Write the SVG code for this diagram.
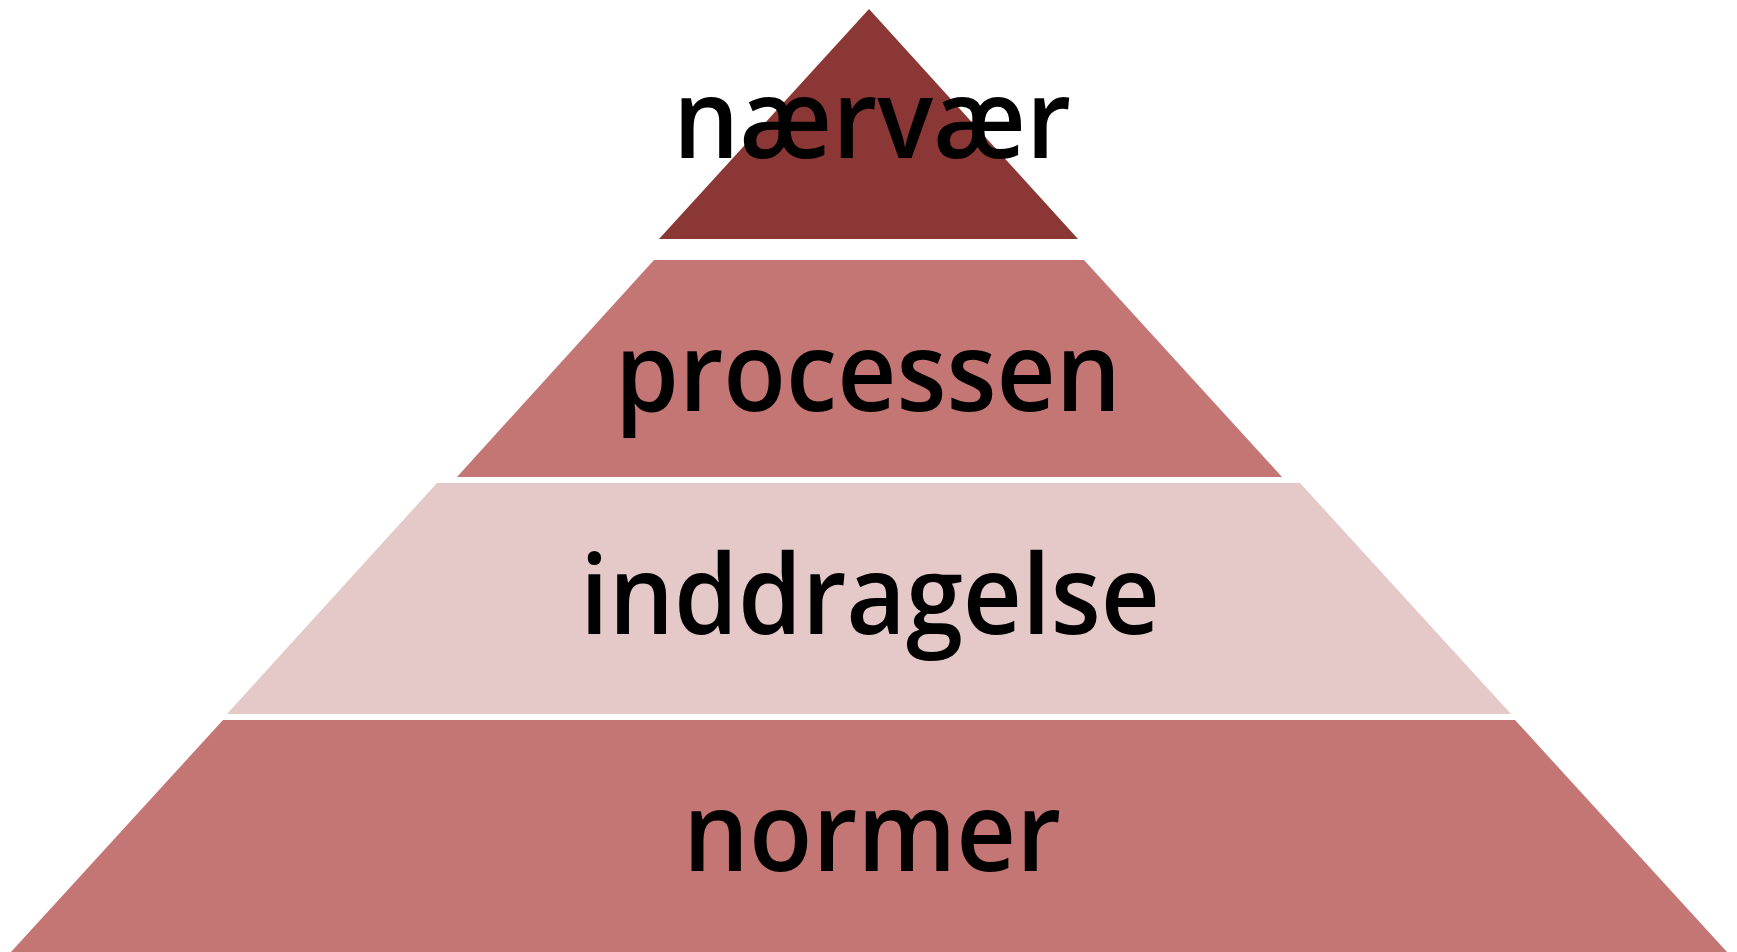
<svg xmlns="http://www.w3.org/2000/svg" width="1737" height="952" viewBox="0 0 1737 952">
<style>
.lbl{font-family:"Open Sans","Noto Sans","Liberation Sans",sans-serif;font-size:110px;font-weight:600;fill:#000;text-anchor:middle}
.dark{fill:#8B3735}
.mid{fill:#C47674}
.light{fill:#E5C8C8}
</style>
<rect width="1737" height="952" fill="#fff"/>
<g id="layer4">
<polygon class="mid" points="223,720 1515,720 1727,952 11,952"/>
<text class="lbl" x="872" y="871" textLength="378" lengthAdjust="spacingAndGlyphs">normer</text>
</g>
<g id="layer3">
<polygon class="light" points="437,483 1300,483 1511,714 227,714"/>
<text class="lbl" x="870" y="634" textLength="580" lengthAdjust="spacingAndGlyphs">inddragelse</text>
</g>
<g id="layer2">
<polygon class="mid" points="654,260 1084,260 1282,477 457,477"/>
<text class="lbl" x="868" y="411" textLength="506" lengthAdjust="spacingAndGlyphs">processen</text>
</g>
<g id="layer1">
<polygon class="dark" points="869,9 1078,239 659,239"/>
<text class="lbl" x="872" y="158" textLength="398" lengthAdjust="spacingAndGlyphs">nærvær</text>
</g>
<g id="connectors"/>
</svg>
